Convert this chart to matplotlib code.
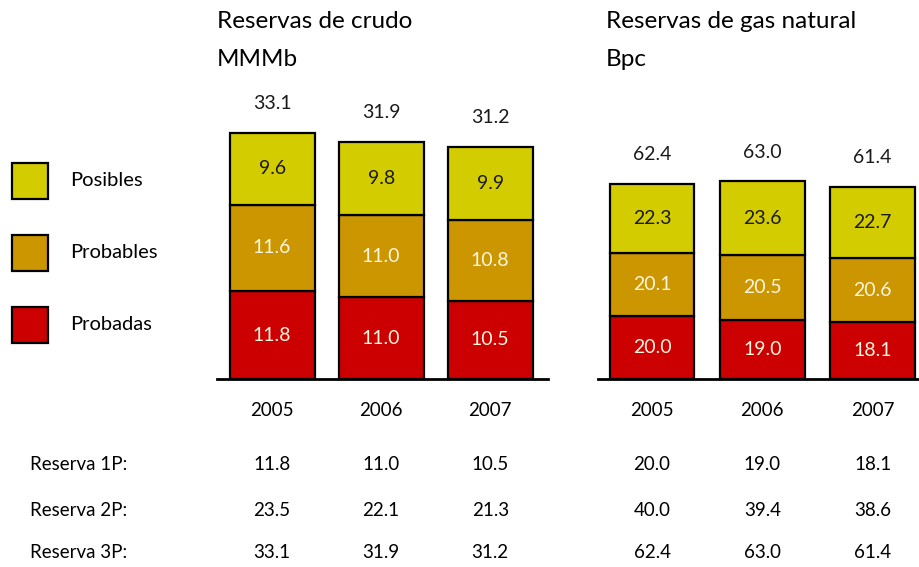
import matplotlib.pyplot as plt
import matplotlib.transforms as mtransforms
from matplotlib.patches import Rectangle

plt.rcParams['font.family'] = ['Lato', 'DejaVu Sans']

# Data
years = ["2005", "2006", "2007"]
series = ["Posibles", "Probables", "Probadas"]
colors = {"Posibles": "#d3cc00", "Probables": "#cc9600", "Probadas": "#cc0000"}

crudo_probadas = [11.8, 11.0, 10.5]
crudo_probables = [11.6, 11.0, 10.8]
crudo_posibles = [9.6, 9.8, 9.9]
crudo_1p = [11.8, 11.0, 10.5]
crudo_2p = [23.5, 22.1, 21.3]
crudo_3p = [33.1, 31.9, 31.2]

gas_probadas = [20.0, 19.0, 18.1]
gas_probables = [20.1, 20.5, 20.6]
gas_posibles = [22.3, 23.6, 22.7]
gas_1p = [20.0, 19.0, 18.1]
gas_2p = [40.0, 39.4, 38.6]
gas_3p = [62.4, 63.0, 61.4]

W, H = 920, 567
fig = plt.figure(figsize=(W / 100, H / 100), dpi=100)


def px_axes(x0, x1, y_top, y_base):
    return fig.add_axes([x0 / W, 1 - y_base / H, (x1 - x0) / W, (y_base - y_top) / H])


def draw_panel(ax, probadas, probables, posibles, totals, ymax, xlim, width):
    x = range(len(years))
    light = "#fdf6df"
    bottoms = [0] * len(years)
    for vals, name, tcol in [(probadas, "Probadas", light),
                             (probables, "Probables", light),
                             (posibles, "Posibles", "#1a1a1a")]:
        bars = ax.bar(x, vals, width, bottom=bottoms, color=colors[name],
                      edgecolor="black", linewidth=1.6, zorder=2)
        for b, v in zip(bars, vals):
            ax.text(b.get_x() + b.get_width() / 2, b.get_y() + b.get_height() / 2,
                    f"{v:.1f}", ha="center", va="center", fontsize=14, color=tcol)
        bottoms = [bt + v for bt, v in zip(bottoms, vals)]
    for xi, t in zip(x, totals):
        ax.annotate(f"{t:.1f}", xy=(xi, t), xytext=(0, 21), textcoords="offset points",
                    ha="center", va="center", fontsize=14, color="#1a1a1a")
    ax.set_ylim(0, ymax)
    ax.set_xlim(*xlim)
    for s in ["top", "right", "left"]:
        ax.spines[s].set_visible(False)
    ax.spines["bottom"].set_linewidth(2)
    ax.spines["bottom"].set_zorder(3)
    ax.set_xticks([])
    ax.set_yticks([])
    ax.patch.set_alpha(0)


ax1 = px_axes(217, 548, 90, 379)
draw_panel(ax1, crudo_probadas, crudo_probables, crudo_posibles, crudo_3p,
           289 / 7.45, (-0.505, 2.53), 0.78)
ax2 = px_axes(598, 920, 90, 379)
draw_panel(ax2, gas_probadas, gas_probables, gas_posibles, gas_3p,
           289 / 3.13, (-0.49, 2.43), 0.77)

# Titles
fig.text(217 / W, 1 - 22 / H, "Reservas de crudo", fontsize=17.5, va="center", ha="left")
fig.text(217 / W, 1 - 60 / H, "MMMb", fontsize=17.5, va="center", ha="left")
fig.text(606 / W, 1 - 22 / H, "Reservas de gas natural", fontsize=17.5, va="center", ha="left")
fig.text(606 / W, 1 - 60 / H, "Bpc", fontsize=17.5, va="center", ha="left")

# Legend
for name, yc in zip(series, [181, 253, 325]):
    fig.patches.append(Rectangle((12 / W, 1 - (yc + 18) / H), 36 / W, 36 / H,
                                 transform=fig.transFigure, facecolor=colors[name],
                                 edgecolor="black", linewidth=1.6))
    fig.text(70 / W, 1 - yc / H, name, fontsize=14.5, va="center", ha="left")

# Table below the bars
rows = [("Reserva 1P:", crudo_1p, gas_1p, 465),
        ("Reserva 2P:", crudo_2p, gas_2p, 510),
        ("Reserva 3P:", crudo_3p, gas_3p, 553)]
for ax in (ax1, ax2):
    tr = mtransforms.blended_transform_factory(ax.transData, fig.transFigure)
    for xi, yr in enumerate(years):
        ax.text(xi, 1 - 411 / H, yr, transform=tr, ha="center", va="center", fontsize=13.5)
for label, cvals, gvals, yc in rows:
    fig.text(30 / W, 1 - yc / H, label, fontsize=13.5, va="center", ha="left")
    for ax, vals in ((ax1, cvals), (ax2, gvals)):
        tr = mtransforms.blended_transform_factory(ax.transData, fig.transFigure)
        for xi, v in enumerate(vals):
            ax.text(xi, 1 - yc / H, f"{v:.1f}", transform=tr, ha="center", va="center",
                    fontsize=13.5)

fig.savefig("out.png", dpi=100)
